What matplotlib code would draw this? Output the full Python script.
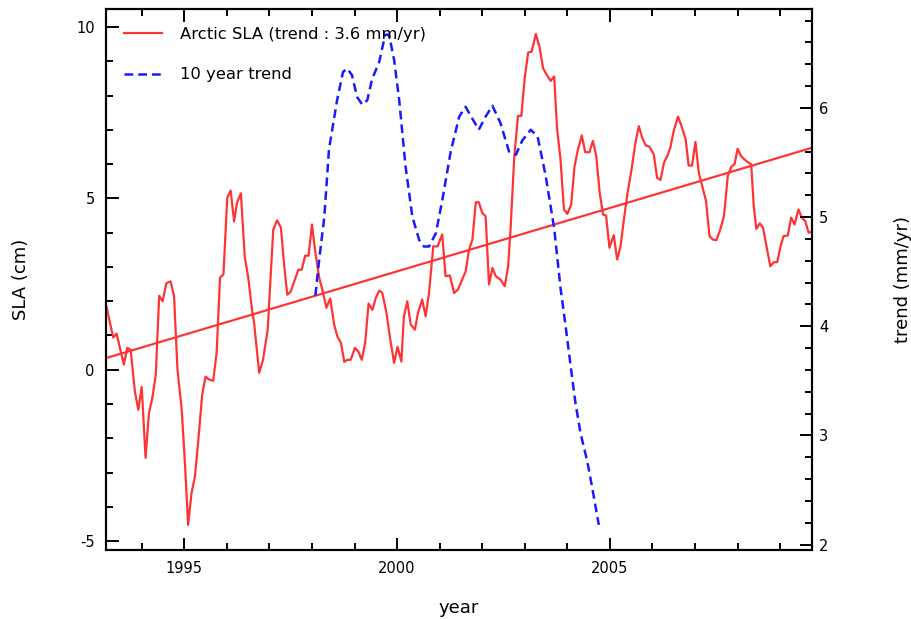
import matplotlib
matplotlib.use("Agg")
import matplotlib.pyplot as plt
from matplotlib.ticker import MultipleLocator

plt.rcParams["axes.unicode_minus"] = False

# Arctic SLA (cm)
sla_years = [1993.16, 1993.33, 1993.41, 1993.58, 1993.66, 1993.74, 1993.84, 1993.92, 1994.00, 1994.09,
             1994.17, 1994.25, 1994.33, 1994.41, 1994.49, 1994.58, 1994.68, 1994.76, 1994.84, 1994.94,
             1995.02, 1995.09, 1995.17, 1995.25, 1995.33, 1995.42, 1995.50, 1995.59, 1995.68, 1995.76,
             1995.84, 1995.92, 1996.01, 1996.09, 1996.17, 1996.24, 1996.33, 1996.42, 1996.50, 1996.60,
             1996.64, 1996.76, 1996.85, 1996.96, 1997.09, 1997.18, 1997.27, 1997.35, 1997.42, 1997.50,
             1997.68, 1997.76, 1997.84, 1997.92, 1998.00, 1998.08, 1998.17, 1998.26, 1998.34, 1998.43,
             1998.52, 1998.60, 1998.68, 1998.76, 1998.83, 1998.91, 1999.01, 1999.09, 1999.17, 1999.25,
             1999.33, 1999.42, 1999.50, 1999.58, 1999.65, 1999.75, 1999.83, 1999.93, 2000.01, 2000.10,
             2000.16, 2000.24, 2000.32, 2000.42, 2000.49, 2000.59, 2000.67, 2000.75, 2000.85, 2000.95,
             2001.06, 2001.14, 2001.24, 2001.34, 2001.43, 2001.53, 2001.61, 2001.69, 2001.77, 2001.85,
             2001.92, 2002.00, 2002.08, 2002.16, 2002.24, 2002.32, 2002.43, 2002.53, 2002.61, 2002.67,
             2002.75, 2002.84, 2002.92, 2003.00, 2003.08, 2003.16, 2003.26, 2003.35, 2003.43, 2003.53,
             2003.61, 2003.69, 2003.76, 2003.84, 2003.92, 2004.00, 2004.09, 2004.17, 2004.25, 2004.34,
             2004.42, 2004.52, 2004.60, 2004.68, 2004.76, 2004.84, 2004.91, 2004.99, 2005.09, 2005.17,
             2005.25, 2005.33, 2005.41, 2005.51, 2005.60, 2005.68, 2005.76, 2005.84, 2005.93, 2006.03,
             2006.11, 2006.19, 2006.27, 2006.35, 2006.42, 2006.50, 2006.60, 2006.67, 2006.78, 2006.85,
             2006.93, 2007.01, 2007.09, 2007.17, 2007.26, 2007.34, 2007.42, 2007.50, 2007.58, 2007.68,
             2007.77, 2007.85, 2007.93, 2008.00, 2008.08, 2008.16, 2008.24, 2008.32, 2008.38, 2008.44,
             2008.52, 2008.60, 2008.68, 2008.77, 2008.85, 2008.93, 2009.01, 2009.08, 2009.18, 2009.26,
             2009.34, 2009.43, 2009.51, 2009.59, 2009.67, 2009.75]
sla = [1.90, 0.94, 1.05, 0.15, 0.64, 0.58, -0.64, -1.17, -0.50, -2.57,
       -1.26, -0.82, -0.15, 2.16, 2.00, 2.53, 2.58, 2.14, 0.00, -1.17,
       -2.83, -4.53, -3.60, -3.12, -2.05, -0.73, -0.20, -0.29, -0.32, 0.50,
       2.69, 2.78, 5.03, 5.23, 4.33, 4.88, 5.15, 3.30, 2.72, 1.67,
       1.37, -0.09, 0.29, 1.17, 4.09, 4.36, 4.15, 3.01, 2.19, 2.28,
       2.92, 2.92, 3.33, 3.33, 4.24, 3.42, 2.69, 2.25, 1.81, 2.08,
       1.32, 0.96, 0.79, 0.23, 0.29, 0.29, 0.64, 0.53, 0.29, 0.79,
       1.93, 1.75, 2.10, 2.31, 2.25, 1.67, 0.96, 0.20, 0.67, 0.24,
       1.56, 2.00, 1.32, 1.17, 1.66, 2.05, 1.56, 2.24, 3.60, 3.60,
       3.95, 2.73, 2.75, 2.24, 2.34, 2.63, 2.87, 3.50, 3.80, 4.89,
       4.89, 4.58, 4.48, 2.49, 2.97, 2.73, 2.63, 2.44, 3.02, 4.19,
       6.14, 7.41, 7.41, 8.53, 9.26, 9.28, 9.80, 9.40, 8.80, 8.58,
       8.43, 8.56, 7.02, 6.14, 4.68, 4.55, 4.82, 5.94, 6.43, 6.84,
       6.35, 6.35, 6.68, 6.24, 5.17, 4.53, 4.50, 3.56, 3.93, 3.22,
       3.60, 4.39, 5.12, 5.85, 6.63, 7.11, 6.77, 6.55, 6.51, 6.29,
       5.60, 5.54, 6.04, 6.24, 6.48, 6.97, 7.39, 7.16, 6.73, 5.96,
       5.96, 6.65, 5.75, 5.36, 4.92, 3.90, 3.80, 3.78, 4.04, 4.48,
       5.65, 5.92, 6.00, 6.45, 6.24, 6.14, 6.06, 6.00, 4.78, 4.11,
       4.27, 4.14, 3.60, 3.02, 3.14, 3.14, 3.60, 3.90, 3.92, 4.44,
       4.24, 4.68, 4.44, 4.34, 4.00, 4.04]

# linear trend line (end points)
trend_years = [1993.16, 2009.75]
trend_sla = [0.34, 6.48]

# 10 year trend (mm/yr)
ten_years = [1998.08, 1998.17, 1998.29, 1998.40, 1998.59, 1998.73, 1998.83, 1998.94, 1999.06, 1999.18,
             1999.30, 1999.41, 1999.58, 1999.72, 1999.81, 1999.93, 2000.05, 2000.20, 2000.36, 2000.52,
             2000.63, 2000.75, 2000.91, 2001.06, 2001.26, 2001.46, 2001.61, 2001.74, 2001.92, 2002.08,
             2002.24, 2002.43, 2002.63, 2002.79, 2002.94, 2003.14, 2003.30, 2003.49, 2003.69, 2003.84,
             2003.96, 2004.08, 2004.19, 2004.31, 2004.47, 2004.58, 2004.74]
ten_trend = [4.28, 4.61, 5.00, 5.62, 6.07, 6.33, 6.36, 6.30, 6.10, 6.03,
             6.07, 6.26, 6.42, 6.67, 6.67, 6.44, 6.07, 5.46, 5.00, 4.79,
             4.73, 4.73, 4.85, 5.15, 5.60, 5.92, 6.01, 5.92, 5.80, 5.92,
             6.02, 5.86, 5.60, 5.57, 5.70, 5.80, 5.74, 5.38, 4.90, 4.35,
             4.00, 3.63, 3.30, 3.02, 2.76, 2.53, 2.18]

red = "#ff3333"
blue = "#1a1aff"

fig = plt.figure(figsize=(9.12, 6.19), dpi=100)
ax = fig.add_axes([0.1162, 0.1115, 0.7742, 0.874])
ax2 = ax.twinx()

l1, = ax.plot(sla_years, sla, color=red, lw=1.6, label="Arctic SLA (trend : 3.6 mm/yr)")
ax.plot(trend_years, trend_sla, color=red, lw=1.6)
l2, = ax2.plot(ten_years, ten_trend, color=blue, lw=1.8, ls=(0, (3.5, 2)), label="10 year trend")

ax.set_xlim(1993.16, 2009.75)
ax.set_ylim(-5.26, 10.53)
ax2.set_ylim(1.95, 6.906)

ax.xaxis.set_major_locator(MultipleLocator(5))
ax.xaxis.set_minor_locator(MultipleLocator(1))
ax.yaxis.set_major_locator(MultipleLocator(5))
ax.yaxis.set_minor_locator(MultipleLocator(1))
ax2.yaxis.set_major_locator(MultipleLocator(1))
ax2.yaxis.set_minor_locator(MultipleLocator(0.2))

ax.tick_params(which="both", direction="in", top=True, width=1.4, labelsize=10.5, pad=8)
ax.tick_params(which="major", length=9)
ax.tick_params(which="minor", length=5)
ax.tick_params(axis="y", which="both", right=False)
ax2.tick_params(which="both", direction="in", width=1.4, labelsize=10.5, pad=5)
ax2.tick_params(which="major", length=9)
ax2.tick_params(which="minor", length=5)
for a in (ax, ax2):
    for s in a.spines.values():
        s.set_linewidth(1.5)

ax.set_xlabel("year", fontsize=13)
ax.set_ylabel("SLA (cm)", fontsize=13)
ax2.set_ylabel("trend (mm/yr)", fontsize=13)
ax.xaxis.set_label_coords(0.5, -0.09)
ax.yaxis.set_label_coords(-0.108, 0.5)
ax2.yaxis.set_label_coords(1.116, 0.5)

ax2.legend([l1, l2], [l1.get_label(), l2.get_label()], loc="upper left", frameon=False,
           fontsize=11.8, labelspacing=1.55, handlelength=2.3, handletextpad=1.1,
           borderaxespad=0.7)

fig.savefig("out.png", dpi=100)
